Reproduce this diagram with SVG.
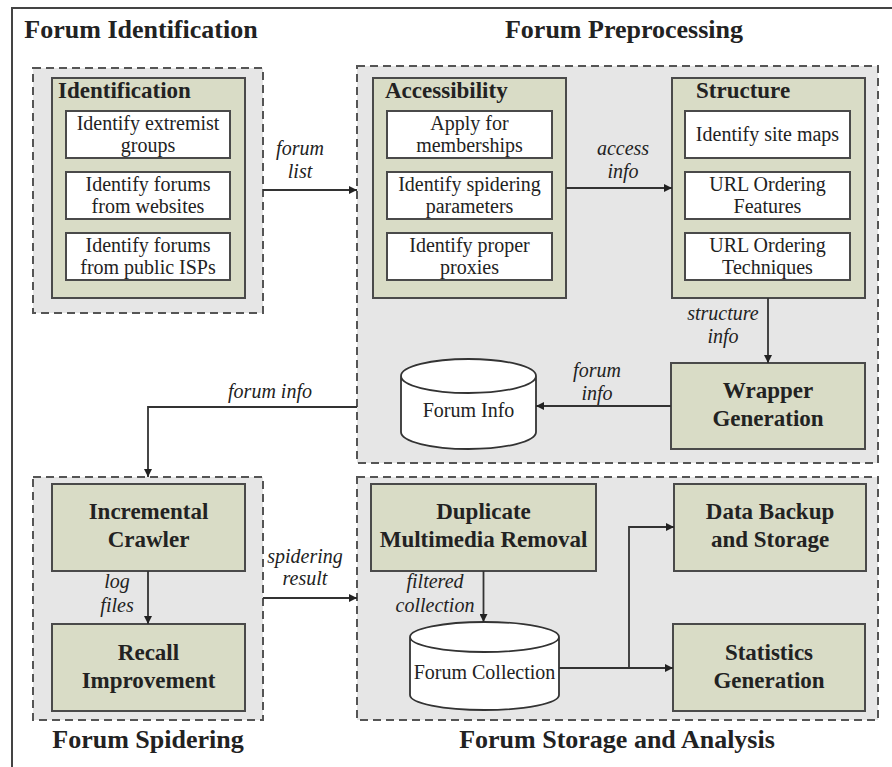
<svg xmlns="http://www.w3.org/2000/svg" width="892" height="767" viewBox="0 0 892 767">
<style>
.frame{fill:#ffffff;stroke:#444;stroke-width:2}
.cont{fill:#e6e6e6;stroke:#555;stroke-width:2;stroke-dasharray:8 5}
.green{fill:#d9dcc6;stroke:#4a4a4a;stroke-width:2}
.white{fill:#ffffff;stroke:#4a4a4a;stroke-width:2}
.db{fill:#ffffff;stroke:#333;stroke-width:1.8}
.t{font-family:"Liberation Serif","Times New Roman",serif;fill:#222}
.title{font-size:26px;font-weight:bold;text-anchor:middle}
.gt{font-size:23px;font-weight:bold}
.bt{font-size:23px;font-weight:bold;text-anchor:middle}
.it{font-size:20px;text-anchor:middle}
.lab{font-size:20px;font-style:italic;text-anchor:middle}
.conn{fill:none;stroke:#333;stroke-width:1.8}
</style>
<defs>
<marker id="ah" viewBox="0 0 10 10" refX="10" refY="5" markerWidth="9" markerHeight="8" markerUnits="userSpaceOnUse" orient="auto">
<path d="M0,0 L10,5 L0,10 z" fill="#222"/>
</marker>
</defs>
<rect x="0" y="0" width="892" height="767" fill="#ffffff"/>
<rect class="frame" x="12" y="8" width="890" height="775"/>

<g id="section-titles">
<text class="t title" x="141" y="38">Forum Identification</text>
<text class="t title" x="624" y="38">Forum Preprocessing</text>
<text class="t title" x="148" y="748">Forum Spidering</text>
<text class="t title" x="617" y="748">Forum Storage and Analysis</text>
</g>

<g id="containers">
<rect class="cont" x="33" y="68" width="230" height="245"/>
<rect class="cont" x="357" y="66" width="521" height="397"/>
<rect class="cont" x="33" y="477" width="230" height="243"/>
<rect class="cont" x="357" y="477" width="521" height="243"/>
</g>

<g id="identification">
<rect class="green" x="52" y="78" width="193" height="220"/>
<text class="t gt" x="58" y="98">Identification</text>
<rect class="white" x="66" y="111" width="164" height="47"/>
<text class="t it" x="148" y="130">Identify extremist</text>
<text class="t it" x="148" y="152">groups</text>
<rect class="white" x="66" y="172" width="164" height="47"/>
<text class="t it" x="148" y="191">Identify forums</text>
<text class="t it" x="148" y="213">from websites</text>
<rect class="white" x="66" y="233" width="164" height="47"/>
<text class="t it" x="148" y="252">Identify forums</text>
<text class="t it" x="148" y="274">from public ISPs</text>
</g>

<g id="accessibility">
<rect class="green" x="373" y="78" width="193" height="220"/>
<text class="t gt" x="385" y="98">Accessibility</text>
<rect class="white" x="387" y="111" width="165" height="47"/>
<text class="t it" x="469.5" y="130">Apply for</text>
<text class="t it" x="469.5" y="152">memberships</text>
<rect class="white" x="387" y="172" width="165" height="47"/>
<text class="t it" x="469.5" y="191">Identify spidering</text>
<text class="t it" x="469.5" y="213">parameters</text>
<rect class="white" x="387" y="233" width="165" height="47"/>
<text class="t it" x="469.5" y="252">Identify proper</text>
<text class="t it" x="469.5" y="274">proxies</text>
</g>

<g id="structure">
<rect class="green" x="672" y="78" width="193" height="220"/>
<text class="t gt" x="696" y="98">Structure</text>
<rect class="white" x="685" y="111" width="165" height="47"/>
<text class="t it" x="767.5" y="141">Identify site maps</text>
<rect class="white" x="685" y="172" width="165" height="47"/>
<text class="t it" x="767.5" y="191">URL Ordering</text>
<text class="t it" x="767.5" y="213">Features</text>
<rect class="white" x="685" y="233" width="165" height="47"/>
<text class="t it" x="767.5" y="252">URL Ordering</text>
<text class="t it" x="767.5" y="274">Techniques</text>
</g>

<g id="wrapper-generation">
<rect class="green" x="671" y="363" width="194" height="86"/>
<text class="t bt" x="768" y="398">Wrapper</text>
<text class="t bt" x="768" y="426">Generation</text>
</g>

<g id="forum-info">
<path class="db" d="M401,376 L401,432 A67.5,17 0 0 0 536,432 L536,376 A67.5,17 0 0 0 401,376 A67.5,17 0 0 0 536,376"/>
<text class="t it" x="468.5" y="417">Forum Info</text>
</g>

<g id="incremental-crawler">
<rect class="green" x="52" y="484" width="193" height="87"/>
<text class="t bt" x="148.5" y="519">Incremental</text>
<text class="t bt" x="148.5" y="547">Crawler</text>
</g>

<g id="recall-improvement">
<rect class="green" x="52" y="624" width="193" height="87"/>
<text class="t bt" x="148.5" y="660">Recall</text>
<text class="t bt" x="148.5" y="688">Improvement</text>
</g>

<g id="duplicate-removal">
<rect class="green" x="371" y="484" width="225" height="87"/>
<text class="t bt" x="483.5" y="519">Duplicate</text>
<text class="t bt" x="483.5" y="547">Multimedia Removal</text>
</g>

<g id="data-backup">
<rect class="green" x="674" y="484" width="192" height="87"/>
<text class="t bt" x="770" y="519">Data Backup</text>
<text class="t bt" x="770" y="547">and Storage</text>
</g>

<g id="statistics-generation">
<rect class="green" x="673" y="624" width="192" height="87"/>
<text class="t bt" x="769" y="660">Statistics</text>
<text class="t bt" x="769" y="688">Generation</text>
</g>

<g id="forum-collection">
<path class="db" d="M410,637 L410,695 A74.5,15 0 0 0 559,695 L559,637 A74.5,15 0 0 0 410,637 A74.5,15 0 0 0 559,637"/>
<text class="t it" x="484.5" y="679">Forum Collection</text>
</g>

<g id="connectors">
<path class="conn" d="M263,190 L357,190" marker-end="url(#ah)"/>
<path class="conn" d="M566,188 L672,188" marker-end="url(#ah)"/>
<path class="conn" d="M768,298 L768,363" marker-end="url(#ah)"/>
<path class="conn" d="M671,406 L536,406" marker-end="url(#ah)"/>
<path class="conn" d="M357,407 L148,407 L148,477" marker-end="url(#ah)"/>
<path class="conn" d="M148,571 L148,624" marker-end="url(#ah)"/>
<path class="conn" d="M263,598 L357,598" marker-end="url(#ah)"/>
<path class="conn" d="M483.5,571 L483.5,622" marker-end="url(#ah)"/>
<path class="conn" d="M559,668 L673,668" marker-end="url(#ah)"/>
<path class="conn" d="M629,668 L629,527 L674,527" marker-end="url(#ah)"/>
</g>

<g id="connector-labels">
<text class="t lab" x="300" y="155">forum</text>
<text class="t lab" x="300" y="178">list</text>
<text class="t lab" x="623" y="155">access</text>
<text class="t lab" x="623" y="178">info</text>
<text class="t lab" x="723" y="320">structure</text>
<text class="t lab" x="723" y="343">info</text>
<text class="t lab" x="597" y="377">forum</text>
<text class="t lab" x="597" y="400">info</text>
<text class="t lab" x="270" y="398">forum info</text>
<text class="t lab" x="117" y="588">log</text>
<text class="t lab" x="117" y="612">files</text>
<text class="t lab" x="305" y="563">spidering</text>
<text class="t lab" x="305" y="585">result</text>
<text class="t lab" x="435" y="588">filtered</text>
<text class="t lab" x="435" y="612">collection</text>
</g>
</svg>
